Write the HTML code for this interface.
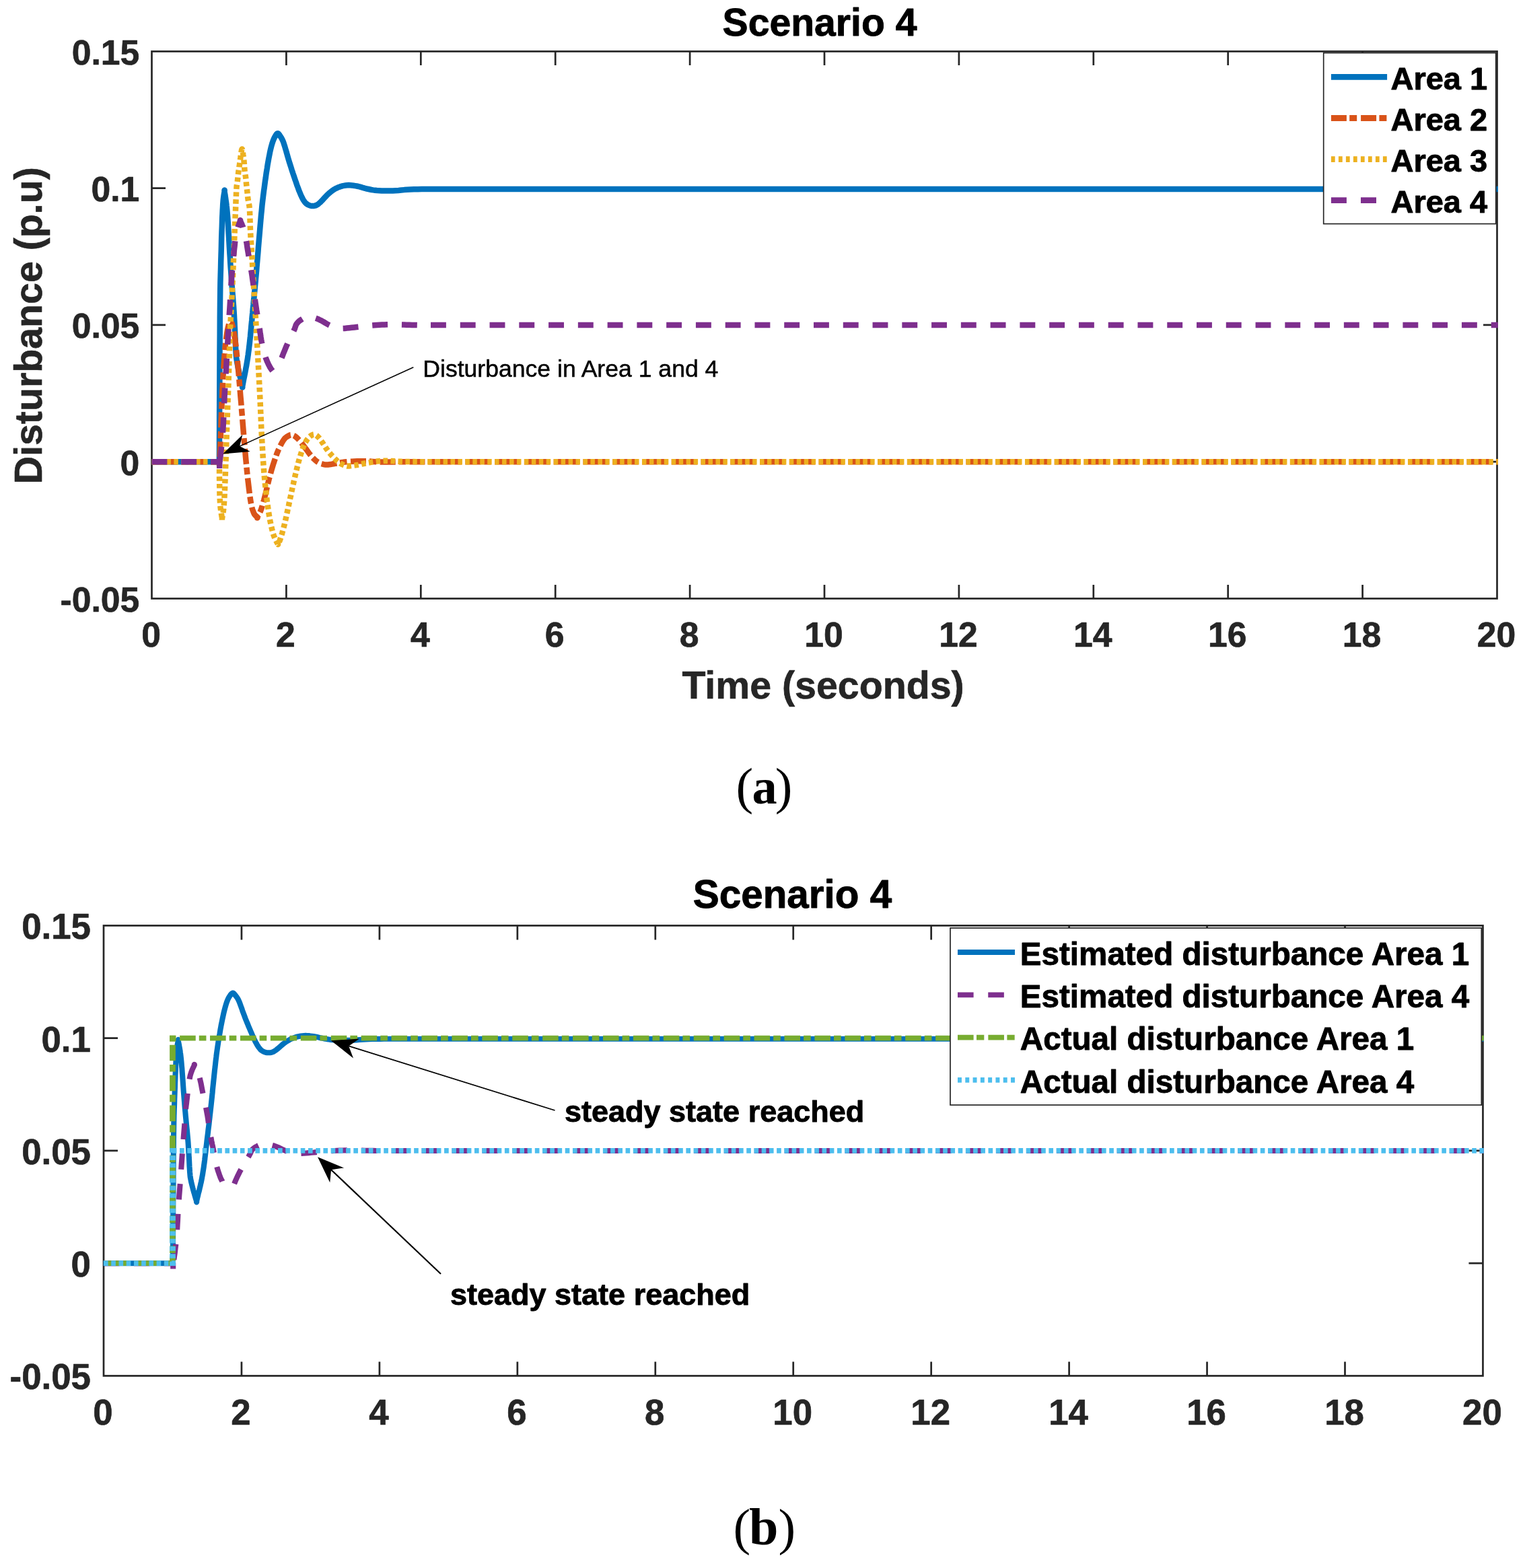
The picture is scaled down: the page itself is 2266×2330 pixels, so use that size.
<!DOCTYPE html>
<html lang="en">
<head>
<meta charset="utf-8">
<title>Scenario 4 - Disturbance estimation</title>
<style>
html,body{margin:0;padding:0;background:#fff;}
body{width:2266px;height:2330px;overflow:hidden;}
svg{display:block;}
text{white-space:pre;}
</style>
</head>
<body>
<svg width="2266" height="2330" viewBox="0 0 2266 2330">
<rect x="0" y="0" width="2266" height="2330" fill="#ffffff"/>
<g id="chart-a">
<g stroke="#262626" stroke-width="2.7" fill="none" stroke-linecap="butt">
<path d="M425.40 889.45V868.95 M425.40 76.40V96.90 M625.30 889.45V868.95 M625.30 76.40V96.90 M825.20 889.45V868.95 M825.20 76.40V96.90 M1025.10 889.45V868.95 M1025.10 76.40V96.90 M1225.00 889.45V868.95 M1225.00 76.40V96.90 M1424.90 889.45V868.95 M1424.90 76.40V96.90 M1624.80 889.45V868.95 M1624.80 76.40V96.90 M1824.70 889.45V868.95 M1824.70 76.40V96.90 M2024.60 889.45V868.95 M2024.60 76.40V96.90 M225.50 686.19H246.00 M2224.50 686.19H2204.00 M225.50 482.93H246.00 M2224.50 482.93H2204.00 M225.50 279.66H246.00 M2224.50 279.66H2204.00 "/>
<rect x="225.50" y="76.40" width="1999.00" height="813.05"/>
</g>
<clipPath id="clip1"><rect x="225.10" y="76.40" width="2000.70" height="813.05"/></clipPath>
<g clip-path="url(#clip1)">
<path d="M224.5 686.2 L325.9 686.2 L325.9 677.6 L326 666.2 L326 652.5 L326.1 636.7 L326.1 619.1 L326.2 600 L326.3 577.8 L326.4 551.8 L326.5 524 L326.7 496.4 L326.8 471.1 L327 450 L327.2 433.5 L327.4 420 L327.7 408.8 L328 398.9 L328.2 389.6 L328.5 380 L328.8 370.3 L329 361.1 L329.2 352.5 L329.5 344.4 L329.8 336.9 L330 330 L330.2 323.7 L330.5 318 L330.7 312.9 L331 308.2 L331.2 303.9 L331.5 300 L331.8 296.4 L332.2 293.1 L332.6 290.3 L333 287.8 L333.4 285.8 L333.6 284.3 L333.7 283.2 L333.7 282.7 L333.6 282.5 L333.5 282.8 L333.5 283.4 L333.6 284.3 L333.8 285.7 L334.1 287.5 L334.4 289.8 L334.8 292.2 L335.2 294.7 L335.5 297 L335.8 299.1 L336.1 301.2 L336.4 303.3 L336.6 305.5 L336.9 308.1 L337.2 311 L337.5 314.2 L337.8 317.7 L338.1 321.4 L338.4 325.4 L338.7 330 L339 335 L339.3 340.7 L339.7 347 L340.1 353.7 L340.5 360.7 L340.9 367.9 L341.3 375 L341.8 382.3 L342.2 389.8 L342.7 397.4 L343.3 405.1 L343.8 412.6 L344.3 420 L344.8 427.2 L345.4 434.4 L346 441.5 L346.5 448.4 L347.1 455.1 L347.5 461.5 L347.9 467.6 L348.2 473.4 L348.5 479 L348.7 484.4 L349 489.7 L349.2 495 L349.4 500.4 L349.7 505.9 L349.9 511.3 L350.1 516.4 L350.4 521 L350.6 525 L350.8 528.1 L351.1 530.6 L351.3 532.5 L351.6 534.2 L351.9 536 L352.2 538 L352.6 540.3 L353.1 542.7 L353.5 545.1 L354 547.5 L354.5 549.8 L355 552 L355.4 554.1 L355.9 556 L356.3 557.9 L356.7 559.8 L357.2 561.6 L357.6 563.5 L358.1 565.5 L358.6 567.6 L359.1 569.7 L359.5 571.6 L359.9 573.2 L360.2 574.4 L360.3 575.2 L360.3 575.6 L360.2 575.8 L360.1 575.6 L360.1 575.2 L360.2 574.4 L360.4 573.2 L360.7 571.5 L361.1 569.4 L361.5 567.3 L361.9 565.1 L362.3 563 L362.7 561.1 L363.1 559.1 L363.5 557.2 L363.9 555.2 L364.3 553.1 L364.7 551 L365.1 548.8 L365.5 546.5 L366 544.2 L366.4 541.8 L366.8 539.4 L367.2 537 L367.6 534.6 L368 532.2 L368.3 529.8 L368.7 527.3 L369 524.7 L369.4 522 L369.8 519.1 L370.1 516.1 L370.5 513 L370.9 509.8 L371.2 506.4 L371.6 503 L372 499.4 L372.3 495.6 L372.7 491.7 L373.1 487.8 L373.4 483.9 L373.8 480 L374.2 476.2 L374.5 472.3 L374.9 468.5 L375.3 464.7 L375.6 460.8 L376 457 L376.4 453.2 L376.7 449.4 L377.1 445.6 L377.5 441.7 L377.8 437.9 L378.2 434 L378.6 430.1 L378.9 426.2 L379.3 422.2 L379.7 418.3 L380 414.2 L380.4 410 L380.8 405.7 L381.2 401.3 L381.5 396.8 L381.9 392.2 L382.3 387.6 L382.7 383 L383.1 378.4 L383.5 373.7 L383.8 369.1 L384.2 364.4 L384.6 359.7 L385 355 L385.4 350.3 L385.8 345.6 L386.2 340.9 L386.6 336.2 L387 331.6 L387.4 327 L387.8 322.5 L388.2 318 L388.7 313.5 L389.1 309.1 L389.5 304.8 L390 300.5 L390.5 296.3 L391 292.1 L391.5 288 L392 283.9 L392.6 279.9 L393.1 276 L393.6 272.1 L394.1 268.3 L394.7 264.5 L395.2 260.8 L395.7 257.1 L396.3 253.5 L396.9 249.9 L397.4 246.4 L398 242.8 L398.6 239.4 L399.2 236.1 L399.8 233 L400.4 230 L400.9 227.2 L401.5 224.4 L402.1 221.8 L402.7 219.4 L403.3 217 L403.9 214.8 L404.6 212.7 L405.2 210.7 L405.9 208.9 L406.6 207.1 L407.3 205.5 L408.1 203.9 L409 202.3 L409.8 200.9 L410.7 199.6 L411.6 198.7 L412.4 198.2 L413.1 198.2 L413.8 198.7 L414.5 199.4 L415.2 200.4 L415.8 201.5 L416.5 202.5 L417.2 203.5 L417.9 204.6 L418.6 205.7 L419.2 207 L419.9 208.4 L420.6 210 L421.3 211.8 L421.9 213.7 L422.6 215.8 L423.3 218 L423.9 220.3 L424.6 222.5 L425.3 224.7 L425.9 227.1 L426.6 229.4 L427.2 231.8 L427.9 234.1 L428.6 236.5 L429.3 238.8 L430 241.2 L430.8 243.5 L431.5 245.9 L432.3 248.2 L433 250.5 L433.7 252.8 L434.5 255.1 L435.2 257.3 L436 259.6 L436.7 261.8 L437.5 264 L438.2 266.2 L439 268.4 L439.8 270.6 L440.5 272.8 L441.2 274.9 L442 277 L442.8 279 L443.5 281 L444.2 283 L445 284.9 L445.8 286.7 L446.5 288.5 L447.2 290.2 L448 291.8 L448.7 293.4 L449.5 294.8 L450.2 296.2 L451 297.5 L451.8 298.7 L452.5 299.8 L453.3 300.7 L454.1 301.6 L455 302.5 L456 303.2 L457.1 303.9 L458.4 304.6 L459.7 305.1 L461 305.6 L462.5 305.9 L463.9 306 L465.3 306 L466.7 305.9 L468.1 305.6 L469.6 305.1 L471.4 304.2 L473.3 302.9 L475.6 300.9 L478.2 298.3 L480.9 295.3 L483.8 292.3 L486.5 289.4 L489 287.1 L491.3 285.2 L493.4 283.6 L495.4 282.2 L497.5 280.9 L499.5 279.8 L501.7 278.8 L504 277.9 L506.3 277.1 L508.7 276.4 L511.1 275.9 L513.5 275.5 L515.9 275.2 L518.2 275.1 L520.6 275.2 L522.9 275.4 L525.2 275.7 L527.6 276.1 L530 276.5 L532.4 277 L534.9 277.7 L537.4 278.4 L540 279.2 L542.5 279.9 L545 280.5 L547.4 281 L549.7 281.5 L552 282 L554.4 282.4 L557 282.7 L560 283 L563.4 283.2 L567.1 283.4 L571.1 283.5 L575.2 283.6 L579.4 283.6 L583.6 283.5 L587.8 283.3 L592.1 283 L596.4 282.6 L600.8 282.1 L605.4 281.8 L610 281.5 L615.1 281.3 L620.8 281.2 L626.7 281.1 L632.1 281.1 L636.7 281 L640 281 L645 281 L2226.5 281" fill="none" stroke="#0072BD" stroke-width="8.5" stroke-linejoin="round"/>
<path d="M224.5 686.2 L326.2 686.2" fill="none" stroke="#D95319" stroke-width="8.5" stroke-linejoin="round" stroke-dasharray="23 4.9 10.4 5.47" stroke-dashoffset="-1.00"/>
<path d="M326.2 686.2 L326.2 686.2 L326.4 682.5 L326.6 677.7 L326.9 671.9 L327.2 665.2 L327.5 657.8 L327.8 650 L328.1 641.3 L328.5 631.6 L328.8 621.2 L329.2 610.5 L329.6 600 L330 590 L330.4 580.3 L330.9 570.6 L331.4 560.9 L331.9 551.7 L332.5 543 L333 535 L333.6 527.8 L334.1 521.2 L334.7 515.2 L335.3 509.7 L335.9 504.6 L336.5 500 L337.1 495.9 L337.7 492.2 L338.3 489.1 L338.9 486.3 L339.5 484 L340 482 L340.5 480.4 L340.9 479.3 L341.3 478.5 L341.7 478.1 L342.1 477.9 L342.5 478 L343 478.2 L343.4 478.5 L343.9 479.1 L344.4 480.1 L344.9 481.7 L345.5 484 L346.2 486.9 L346.9 490.3 L347.6 494.2 L348.4 498.8 L349.2 504 L350 510 L350.8 516.8 L351.6 524.5 L352.5 532.9 L353.3 541.7 L354.2 550.8 L355 560 L355.8 569.3 L356.6 578.9 L357.4 588.8 L358.3 598.9 L359.1 609.3 L360 620 L360.9 631.3 L361.9 643.3 L362.9 655.5 L364 667.6 L365 679.3 L366 690 L367 700.1 L368 709.9 L369.1 719.1 L370.1 727.7 L371.1 735.4 L372 742 L372.9 747.3 L373.7 751.5 L374.5 754.9 L375.3 757.5 L376.2 759.8 L377 762 L377.9 763.9 L379 765.3 L380 766.4 L381 767.2 L381.8 767.8 L382.4 768.3 L382.6 768.8 L382.6 769.2 L382.4 769.4 L382.2 769.4 L382.1 769 L382.4 768.3 L383 767.2 L383.8 765.7 L384.8 764 L385.9 761.9 L387 759.6 L388 757 L389 754.1 L390 750.7 L391 747.1 L392.1 743.4 L393.1 739.6 L394 736 L394.9 732.5 L395.7 729.1 L396.4 725.8 L397.2 722.3 L398.1 718.7 L399 715 L400 711 L401.2 706.9 L402.3 702.6 L403.5 698.3 L404.8 694 L406 690 L407.3 686.1 L408.6 682.2 L409.9 678.4 L411.2 674.7 L412.6 671.2 L413.9 668 L415.3 665 L416.7 662.1 L418.1 659.4 L419.4 657 L420.8 654.8 L422 653 L423.1 651.6 L424.2 650.5 L425.2 649.7 L426.1 649.1 L427.1 648.5 L428 648 L428.9 647.5 L429.8 647 L430.7 646.6 L431.6 646.3 L432.5 646.2 L433.5 646.2 L434.5 646.4 L435.6 646.8 L436.7 647.3 L437.8 647.9 L438.9 648.6 L440 649.5 L441.1 650.5 L442.3 651.6 L443.5 652.9 L444.7 654.2 L445.8 655.6 L447 657 L448.1 658.4 L449.2 659.8 L450.3 661.3 L451.4 662.8 L452.6 664.4 L453.8 666 L455.1 667.7 L456.4 669.6 L457.8 671.5 L459.2 673.4 L460.6 675.3 L462 677 L463.4 678.6 L464.8 680.2 L466.3 681.7 L467.7 683.1 L469.2 684.4 L470.6 685.5 L472 686.5 L473.4 687.3 L474.8 688 L476.2 688.6 L477.6 689.1 L479 689.5 L480.4 689.9 L481.6 690.2 L482.9 690.4 L484.3 690.5 L485.8 690.5 L487.4 690.5 L489.2 690.3 L491.2 690.1 L493.3 689.7 L495.5 689.3 L497.7 688.9 L500 688.5 L502.2 688.1 L504.5 687.7 L506.7 687.3 L509.2 686.9 L511.9 686.5 L515 686.2 L518.5 685.9 L522.4 685.7 L526.6 685.5 L530.9 685.3 L535.4 685.2 L540 685.2 L544.7 685.3 L549.6 685.6 L554.7 685.9 L559.8 686.2 L564.9 686.4 L570 686.6 L574.9 686.6 L579.6 686.6 L584.4 686.5 L589.3 686.4 L594.4 686.3 L600 686.2 L606.6 686.2 L614.1 686.2 L621.9 686.2 L629.3 686.2 L635.5 686.2 L640 686.2 L647.6 686.2" fill="none" stroke="#D95319" stroke-width="8.5" stroke-linejoin="round" stroke-dasharray="23 4.9 10.4 5.47" stroke-dashoffset="-7.00"/>
<path d="M647.6 686.2 L647.6 686.2 L2226.5 686.2" fill="none" stroke="#D95319" stroke-width="8.5" stroke-linejoin="round" stroke-dasharray="23 4.9 10.4 5.47"/>
<path d="M224.5 686.2 L325.9 686.2" fill="none" stroke="#EDB120" stroke-width="8.5" stroke-linejoin="round" stroke-dasharray="6.5 4.442" stroke-dashoffset="-1.00"/>
<path d="M325.9 686.2 L325.9 686.2 L325.9 689.9 L326 695.1 L326 701.2 L326 707.8 L326.1 714.2 L326.2 720 L326.3 725.3 L326.4 730.6 L326.5 735.8 L326.7 740.8 L326.9 745.6 L327.2 750 L327.6 754.2 L328.1 758.3 L328.7 762.1 L329.2 765.5 L329.7 768.4 L330 770.5 L330.1 771.9 L330.1 772.8 L330 773.1 L329.9 772.8 L329.9 771.9 L330 770.5 L330.3 768.6 L330.7 766.3 L331.3 763.4 L331.8 759.8 L332.3 755.4 L332.8 750 L333.2 743.5 L333.6 735.9 L334 727.5 L334.3 718.5 L334.7 709.3 L335 700 L335.3 690.7 L335.7 681.1 L336 671.2 L336.3 661.1 L336.6 650.7 L337 640 L337.4 629 L337.8 617.8 L338.2 606.2 L338.6 594.4 L339.1 582.4 L339.5 570 L339.9 556.8 L340.3 542.8 L340.8 528.4 L341.2 514.4 L341.6 501.4 L342 490 L342.4 480.2 L342.9 471.7 L343.3 464.1 L343.7 457.2 L344.1 450.9 L344.4 445 L344.7 439.8 L344.9 435.7 L345 432.2 L345.2 428.7 L345.4 424.8 L345.6 420 L345.9 414.1 L346.1 407.6 L346.4 400.6 L346.7 393.4 L347 386.5 L347.3 380 L347.5 374 L347.8 368.3 L348 362.8 L348.2 357.3 L348.4 351.7 L348.6 346 L348.8 340 L349.1 333.9 L349.4 327.8 L349.6 321.6 L349.9 315.7 L350.1 310 L350.3 304.4 L350.5 298.9 L350.8 293.5 L351 288.4 L351.2 283.8 L351.4 280 L351.6 277 L351.9 274.9 L352.2 273.2 L352.4 271.9 L352.7 270.5 L352.9 268.8 L353.1 266.9 L353.3 265 L353.5 263.1 L353.7 261.2 L353.9 259.3 L354.1 257.4 L354.3 255.5 L354.6 253.7 L354.9 251.8 L355.2 250 L355.4 248.2 L355.7 246.3 L356 244.4 L356.2 242.6 L356.5 240.7 L356.7 238.9 L357 236.9 L357.3 234.9 L357.6 232.5 L358 229.7 L358.4 226.8 L358.8 224.3 L359.2 222.4 L359.6 221.5 L360 221.8 L360.3 223.2 L360.7 225.1 L361 227.4 L361.3 229.8 L361.6 231.8 L361.9 233.6 L362.1 235.4 L362.3 237.3 L362.5 239.1 L362.6 241 L362.8 242.8 L362.9 244.6 L363.1 246.5 L363.2 248.3 L363.3 250.2 L363.4 252 L363.6 253.8 L363.8 255.6 L364.1 257.4 L364.4 259.1 L364.7 260.9 L365 262.7 L365.2 264.5 L365.4 266.3 L365.6 268.2 L365.8 270 L365.9 271.9 L366.1 273.7 L366.3 275.5 L366.5 277.3 L366.7 279 L366.9 280.8 L367.1 282.5 L367.3 284.3 L367.5 286.1 L367.7 287.9 L367.9 289.7 L368 291.5 L368.2 293.4 L368.4 295.2 L368.7 297.2 L369 299 L369.4 300.5 L369.7 302 L370.1 304 L370.5 306.5 L370.8 310 L371.1 314.7 L371.3 320.3 L371.5 326.6 L371.7 333.2 L371.9 339.8 L372.2 346 L372.5 351.9 L372.9 357.9 L373.3 363.8 L373.6 369.7 L374 375.6 L374.4 381.5 L374.8 387.5 L375.1 393.6 L375.5 399.7 L375.8 405.6 L376.2 411.5 L376.5 417 L376.8 421.7 L377 425.7 L377.3 429.4 L377.5 433.6 L377.9 438.9 L378.3 446 L378.8 455.1 L379.5 465.8 L380.2 477.6 L380.9 490.1 L381.6 502.7 L382.3 515 L383 527.3 L383.7 540.1 L384.4 553.1 L385.1 565.9 L385.7 578.3 L386.3 590 L386.8 600.9 L387.2 611.1 L387.7 620.9 L388.1 630.6 L388.5 640.2 L389 650 L389.6 660.1 L390.2 670.4 L390.8 680.6 L391.5 690.7 L392.2 700.6 L393 710 L393.9 719.1 L394.9 728.1 L395.9 736.9 L396.9 745.2 L398 752.9 L399 760 L400 766.4 L401 772.1 L402.1 777.3 L403.1 782 L404.1 786.2 L405 790 L405.9 793.2 L406.8 795.9 L407.7 798 L408.5 799.9 L409.3 801.5 L410 803 L410.7 804.4 L411.3 805.5 L411.8 806.5 L412.3 807.2 L412.7 807.8 L413 808.3 L413.1 808.7 L413.1 809 L413 809.1 L412.9 809 L412.8 808.8 L413 808.3 L413.4 807.6 L413.8 806.8 L414.4 805.8 L415.1 804.6 L415.8 803 L416.5 801 L417.3 798.5 L418.2 795.6 L419.2 792.4 L420.1 789 L421.1 785.5 L422 782 L422.9 778.6 L423.7 775.1 L424.5 771.5 L425.3 767.8 L426.1 764 L427 760 L427.9 755.8 L428.9 751.4 L429.8 746.9 L430.8 742.3 L431.8 737.6 L432.8 733 L433.8 728.4 L434.8 723.6 L435.9 718.9 L436.9 714.1 L438 709.5 L439 705 L440.1 700.6 L441.1 696.2 L442.2 691.9 L443.2 687.8 L444.3 683.8 L445.4 680 L446.5 676.4 L447.6 672.9 L448.7 669.6 L449.8 666.5 L450.9 663.6 L452 661 L453.1 658.6 L454.3 656.5 L455.4 654.6 L456.6 652.9 L457.8 651.4 L459 650 L460.2 648.8 L461.5 647.7 L462.7 646.9 L464 646.2 L465.2 645.8 L466.4 645.6 L467.5 645.7 L468.6 646.1 L469.7 646.7 L470.8 647.5 L471.9 648.4 L473 649.5 L474.1 650.7 L475.3 652.2 L476.4 653.8 L477.6 655.5 L478.8 657.3 L480 659 L481.2 660.8 L482.4 662.6 L483.6 664.5 L484.8 666.4 L486.1 668.2 L487.4 670 L488.8 671.8 L490.2 673.5 L491.6 675.2 L493.1 676.9 L494.6 678.5 L496 680 L497.4 681.4 L498.8 682.8 L500.1 684.1 L501.5 685.4 L502.9 686.5 L504.2 687.5 L505.5 688.4 L506.9 689.2 L508.2 689.9 L509.5 690.5 L510.8 691 L512 691.5 L513 691.9 L513.9 692.1 L514.7 692.3 L515.6 692.5 L516.7 692.5 L518 692.5 L519.6 692.4 L521.4 692.2 L523.4 692 L525.6 691.7 L527.8 691.4 L530 691 L532.3 690.6 L534.8 690.1 L537.3 689.6 L539.9 689 L542.5 688.5 L545 688 L547.5 687.5 L550 687.1 L552.5 686.6 L555 686.2 L557.5 685.8 L560 685.5 L562.5 685.3 L564.8 685.1 L567.2 684.9 L569.7 684.8 L572.5 684.8 L575.6 684.8 L579 684.9 L582.5 685.1 L586.3 685.3 L590.4 685.6 L594.9 685.8 L600 686 L606.2 686.1 L613.7 686.1 L621.5 686.2 L629.1 686.2 L635.5 686.2 L640 686.2 L647.6 686.2" fill="none" stroke="#EDB120" stroke-width="8.5" stroke-linejoin="round" stroke-dasharray="6.5 4.442"/>
<path d="M647.6 686.2 L647.6 686.2 L2226.5 686.2" fill="none" stroke="#EDB120" stroke-width="8.5" stroke-linejoin="round" stroke-dasharray="6.5 4.442"/>
<path d="M224.5 686.2 L326.2 686.2 L326.2 696.3" fill="none" stroke="#7E2F8E" stroke-width="8.5" stroke-linejoin="round" stroke-dasharray="22.9 20.87" stroke-dashoffset="-1.00"/>
<path d="M326.2 686.5 L326.3 685.5 L326.5 684.6 L326.7 683.5 L326.9 682.1 L327.2 680.3 L327.5 678 L327.8 675 L328.2 671.5 L328.7 667.5 L329.1 663.4 L329.5 659.1 L329.9 655 L330.2 651.2 L330.6 647.6 L330.9 643.9 L331.2 639.9 L331.5 635.3 L331.8 630 L332.1 623.7 L332.4 616.5 L332.8 608.8 L333.1 600.7 L333.4 592.7 L333.8 585 L334.2 577.7 L334.6 570.6 L335.1 563.4 L335.5 556.1 L336 548.4 L336.5 540 L337 530.6 L337.6 520.4 L338.3 509.7 L338.9 499.1 L339.5 489 L340 480 L340.5 472 L340.9 464.7 L341.4 457.9 L341.8 451.6 L342.1 445.7 L342.5 440 L342.8 434.7 L343.1 429.8 L343.3 425.3 L343.6 421.1 L343.8 417 L344.1 413 L344.4 409.2 L344.7 405.6 L345 402.2 L345.3 398.9 L345.7 395.5 L346 392 L346.3 388.4 L346.7 384.7 L347 380.9 L347.4 377.2 L347.7 373.6 L348.1 370 L348.5 366.5 L348.9 362.9 L349.2 359.4 L349.6 356 L350.1 352.8 L350.5 350 L351 347.5 L351.4 345.3 L351.9 343.4 L352.4 341.5 L353 339.8 L353.5 338 L354.1 336.1 L354.8 334.2 L355.4 332.4 L356.1 330.7 L356.6 329.3 L357 328.3 L357.2 327.6 L357.1 327.3 L357 327.2 L356.9 327.4 L356.8 327.7 L357 328.3 L357.4 329.1 L357.9 330.2 L358.6 331.6 L359.3 333.1 L359.9 334.6 L360.5 336 L361 337.4 L361.4 338.8 L361.8 340.3 L362.2 341.8 L362.6 343.4 L363 345 L363.4 346.6 L363.8 348.1 L364.2 349.6 L364.6 351.4 L365.1 353.5 L365.6 356.1 L366.2 359.4 L366.8 363.2 L367.4 367.4 L368.1 371.7 L368.8 375.8 L369.4 379.7 L370 383.2 L370.6 386.4 L371.2 389.6 L371.8 392.7 L372.3 396 L372.9 399.4 L373.5 403 L374.1 406.8 L374.7 410.7 L375.2 414.6 L375.8 418.5 L376.3 422.3 L376.7 426 L377.1 429.6 L377.5 433.2 L377.9 436.8 L378.3 440.4 L378.7 443.9 L379.2 447.4 L379.7 450.8 L380.2 454.1 L380.7 457.5 L381.2 460.9 L381.8 464.4 L382.4 468 L383 471.6 L383.6 475.3 L384.2 479.1 L384.8 482.8 L385.4 486.5 L386 490.2 L386.5 493.9 L387.1 497.7 L387.6 501.4 L388.2 505 L388.9 508.6 L389.7 512.2 L390.5 515.8 L391.4 519.4 L392.2 522.8 L393.1 526.1 L394 529 L394.8 531.6 L395.7 533.9 L396.5 536 L397.3 537.9 L398.2 539.7 L399 541.5 L399.9 543.2 L400.7 544.8 L401.6 546.4 L402.5 547.8 L403.4 549.1 L404.3 550.3 L405.2 551.5 L406 552.7" fill="none" stroke="#7E2F8E" stroke-width="8.5" stroke-linejoin="round" stroke-dasharray="22.9 20.87"/>
<path d="M418.5 531.8 L418.5 531.8 L419.7 528.8 L421 525.4 L422.5 521.8 L424 518.1 L425.5 514.4 L427.1 510.9 L428.7 507.3 L430.5 503.6 L432.3 499.9 L434.1 496.4 L435.7 493.2 L437 490.4 L438 488.2 L438.6 486.3 L439.1 484.8 L439.5 483.5 L440.1 482.3 L440.9 481 L442 479.7 L443.2 478.4 L444.5 477.2 L445.9 476.1 L447.4 475.1 L448.8 474.2 L450.2 473.3 L451.7 472.6 L453.2 471.9 L454.8 471.3 L456.4 470.8 L458 470.6 L459.7 470.6 L461.4 470.8 L463.2 471.1 L465 471.5 L466.8 472.1 L468.5 472.6 L470.2 473.2 L471.9 473.8 L473.5 474.5 L475.1 475.3 L476.8 476.1 L478.5 477 L480.2 477.9 L482 479 L483.8 480.1 L485.5 481.1 L487.3 482.1 L489 483 L490.7 483.8 L492.4 484.5 L494 485.1 L495.6 485.7 L497.3 486.2 L499 486.6 L500.6 487 L502.1 487.4 L503.6 487.6 L505.2 487.9 L507.2 488 L509.5 488 L512.3 487.9 L515.5 487.6 L519 487.2 L522.7 486.8 L526.4 486.4 L530 486 L533.6 485.6 L537.3 485.2 L541.1 484.8 L544.8 484.3 L548.6 483.9 L552.4 483.6 L556.2 483.3 L560 483 L563.8 482.8 L567.6 482.6 L571.3 482.4 L575 482.3 L578.6 482.2 L582.1 482.2 L585.5 482.3 L589 482.4 L592.5 482.4 L596.2 482.5 L600.1 482.6 L604.1 482.7 L608.2 482.8 L612.3 482.9 L616.2 482.9 L620 483 L623.8 483 L627.7 483 L631.5 483 L635 483 L637.9 483 L640 483" fill="none" stroke="#7E2F8E" stroke-width="8.5" stroke-linejoin="round" stroke-dasharray="22.9 20.87"/>
<path d="M640 483 L640 483 L2226.5 483" fill="none" stroke="#7E2F8E" stroke-width="8.5" stroke-linejoin="round" stroke-dasharray="22.9 20.87"/>
</g>
<text x="224.50" y="961.00" font-family='"Liberation Sans", Arial, Helvetica, sans-serif' font-size="51.7" font-weight="bold" text-anchor="middle" fill="#262626" stroke="#262626" stroke-width="0.65" stroke-linejoin="round">0</text>
<text x="424.40" y="961.00" font-family='"Liberation Sans", Arial, Helvetica, sans-serif' font-size="51.7" font-weight="bold" text-anchor="middle" fill="#262626" stroke="#262626" stroke-width="0.65" stroke-linejoin="round">2</text>
<text x="624.30" y="961.00" font-family='"Liberation Sans", Arial, Helvetica, sans-serif' font-size="51.7" font-weight="bold" text-anchor="middle" fill="#262626" stroke="#262626" stroke-width="0.65" stroke-linejoin="round">4</text>
<text x="824.20" y="961.00" font-family='"Liberation Sans", Arial, Helvetica, sans-serif' font-size="51.7" font-weight="bold" text-anchor="middle" fill="#262626" stroke="#262626" stroke-width="0.65" stroke-linejoin="round">6</text>
<text x="1024.10" y="961.00" font-family='"Liberation Sans", Arial, Helvetica, sans-serif' font-size="51.7" font-weight="bold" text-anchor="middle" fill="#262626" stroke="#262626" stroke-width="0.65" stroke-linejoin="round">8</text>
<text x="1224.00" y="961.00" font-family='"Liberation Sans", Arial, Helvetica, sans-serif' font-size="51.7" font-weight="bold" text-anchor="middle" fill="#262626" stroke="#262626" stroke-width="0.65" stroke-linejoin="round">10</text>
<text x="1423.90" y="961.00" font-family='"Liberation Sans", Arial, Helvetica, sans-serif' font-size="51.7" font-weight="bold" text-anchor="middle" fill="#262626" stroke="#262626" stroke-width="0.65" stroke-linejoin="round">12</text>
<text x="1623.80" y="961.00" font-family='"Liberation Sans", Arial, Helvetica, sans-serif' font-size="51.7" font-weight="bold" text-anchor="middle" fill="#262626" stroke="#262626" stroke-width="0.65" stroke-linejoin="round">14</text>
<text x="1823.70" y="961.00" font-family='"Liberation Sans", Arial, Helvetica, sans-serif' font-size="51.7" font-weight="bold" text-anchor="middle" fill="#262626" stroke="#262626" stroke-width="0.65" stroke-linejoin="round">16</text>
<text x="2023.60" y="961.00" font-family='"Liberation Sans", Arial, Helvetica, sans-serif' font-size="51.7" font-weight="bold" text-anchor="middle" fill="#262626" stroke="#262626" stroke-width="0.65" stroke-linejoin="round">18</text>
<text x="2223.50" y="961.00" font-family='"Liberation Sans", Arial, Helvetica, sans-serif' font-size="51.7" font-weight="bold" text-anchor="middle" fill="#262626" stroke="#262626" stroke-width="0.65" stroke-linejoin="round">20</text>
<text x="207.30" y="95.80" font-family='"Liberation Sans", Arial, Helvetica, sans-serif' font-size="51.7" font-weight="bold" text-anchor="end" fill="#262626" stroke="#262626" stroke-width="0.65" stroke-linejoin="round">0.15</text>
<text x="207.30" y="299.06" font-family='"Liberation Sans", Arial, Helvetica, sans-serif' font-size="51.7" font-weight="bold" text-anchor="end" fill="#262626" stroke="#262626" stroke-width="0.65" stroke-linejoin="round">0.1</text>
<text x="207.30" y="502.32" font-family='"Liberation Sans", Arial, Helvetica, sans-serif' font-size="51.7" font-weight="bold" text-anchor="end" fill="#262626" stroke="#262626" stroke-width="0.65" stroke-linejoin="round">0.05</text>
<text x="207.30" y="705.59" font-family='"Liberation Sans", Arial, Helvetica, sans-serif' font-size="51.7" font-weight="bold" text-anchor="end" fill="#262626" stroke="#262626" stroke-width="0.65" stroke-linejoin="round">0</text>
<text x="207.30" y="908.85" font-family='"Liberation Sans", Arial, Helvetica, sans-serif' font-size="51.7" font-weight="bold" text-anchor="end" fill="#262626" stroke="#262626" stroke-width="0.65" stroke-linejoin="round">-0.05</text>
<text x="1218.00" y="52.60" font-family='"Liberation Sans", Arial, Helvetica, sans-serif' font-size="57.1" font-weight="bold" text-anchor="middle" fill="#000" stroke="#000" stroke-width="0.9" stroke-linejoin="round">Scenario 4</text>
<text x="1223.00" y="1037.60" font-family='"Liberation Sans", Arial, Helvetica, sans-serif' font-size="57.3" font-weight="bold" text-anchor="middle" fill="#262626" stroke="#262626" stroke-width="0.65" stroke-linejoin="round">Time (seconds)</text>
<text transform="translate(61.9 483.8) rotate(-90)" font-family='"Liberation Sans", Arial, Helvetica, sans-serif' font-size="57.3" font-weight="bold" text-anchor="middle" fill="#262626" stroke="#262626" stroke-width="0.65" stroke-linejoin="round">Disturbance (p.u)</text>
<rect x="1966.7" y="78.6" width="256" height="254" fill="#fff" stroke="#262626" stroke-width="1.7"/>
<line x1="1977.9" y1="114.40" x2="2061.1" y2="114.40" stroke="#0072BD" stroke-width="8.8"/>
<text x="2066.50" y="133.00" font-family='"Liberation Sans", Arial, Helvetica, sans-serif' font-size="47" font-weight="bold" text-anchor="start" fill="#000" stroke="#000" stroke-width="0.9" stroke-linejoin="round">Area 1</text>
<line x1="1977.9" y1="175.50" x2="2061.1" y2="175.50" stroke="#D95319" stroke-width="8.8" stroke-dasharray="23 4.3 11 5.9"/>
<text x="2066.50" y="194.10" font-family='"Liberation Sans", Arial, Helvetica, sans-serif' font-size="47" font-weight="bold" text-anchor="start" fill="#000" stroke="#000" stroke-width="0.9" stroke-linejoin="round">Area 2</text>
<line x1="1977.9" y1="236.60" x2="2061.1" y2="236.60" stroke="#EDB120" stroke-width="8.8" stroke-dasharray="5.8 5.2"/>
<text x="2066.50" y="255.20" font-family='"Liberation Sans", Arial, Helvetica, sans-serif' font-size="47" font-weight="bold" text-anchor="start" fill="#000" stroke="#000" stroke-width="0.9" stroke-linejoin="round">Area 3</text>
<line x1="1977.9" y1="297.70" x2="2061.1" y2="297.70" stroke="#7E2F8E" stroke-width="8.8" stroke-dasharray="23 21.1"/>
<text x="2066.50" y="316.30" font-family='"Liberation Sans", Arial, Helvetica, sans-serif' font-size="47" font-weight="bold" text-anchor="start" fill="#000" stroke="#000" stroke-width="0.9" stroke-linejoin="round">Area 4</text>
<line x1="614.30" y1="545.80" x2="356.13" y2="663.07" stroke="#000" stroke-width="1.5"/>
<polygon points="331.20,674.40 360.36,646.00 356.13,663.07 371.78,671.12" fill="#000"/>
<text x="628.30" y="559.60" font-family='"Liberation Sans", Arial, Helvetica, sans-serif' font-size="35.6" font-weight="normal" text-anchor="start" fill="#000" stroke="#000" stroke-width="0.5">Disturbance in Area 1 and 4</text>
</g>
<text y="1193.5" font-family='"Liberation Serif", "Times New Roman", serif' fill="#000"><tspan x="1093.4" y="1193.5" font-size="77.07" font-weight="normal">(</tspan><tspan x="1117.4" y="1193.7" font-size="74.3" font-weight="bold">a</tspan><tspan x="1151.8" y="1193.5" font-size="77.07" font-weight="normal">)</tspan></text>
<g id="chart-b">
<g stroke="#262626" stroke-width="2.7" fill="none" stroke-linecap="butt">
<path d="M358.94 2044.45V2023.45 M358.94 1375.40V1396.40 M563.89 2044.45V2023.45 M563.89 1375.40V1396.40 M768.83 2044.45V2023.45 M768.83 1375.40V1396.40 M973.78 2044.45V2023.45 M973.78 1375.40V1396.40 M1178.72 2044.45V2023.45 M1178.72 1375.40V1396.40 M1383.67 2044.45V2023.45 M1383.67 1375.40V1396.40 M1588.61 2044.45V2023.45 M1588.61 1375.40V1396.40 M1793.56 2044.45V2023.45 M1793.56 1375.40V1396.40 M1998.50 2044.45V2023.45 M1998.50 1375.40V1396.40 M154.00 1877.19H175.00 M2203.45 1877.19H2182.45 M154.00 1709.93H175.00 M2203.45 1709.93H2182.45 M154.00 1542.66H175.00 M2203.45 1542.66H2182.45 "/>
<rect x="154.00" y="1375.40" width="2049.45" height="669.05"/>
</g>
<clipPath id="clip2"><rect x="153.60" y="1375.40" width="2051.15" height="669.05"/></clipPath>
<g clip-path="url(#clip2)">
<path d="M153 1877.2 L256.9 1877.2 L257 1870.1 L257 1860.8 L257 1849.4 L257.1 1836.4 L257.2 1821.9 L257.2 1806.3 L257.3 1788 L257.5 1766.6 L257.6 1743.7 L257.7 1721 L257.9 1700.2 L258.1 1682.8 L258.3 1669.2 L258.5 1658.1 L258.8 1648.9 L259.1 1640.8 L259.3 1633.1 L259.6 1625.2 L259.9 1617.2 L260.1 1609.7 L260.4 1602.6 L260.6 1596 L260.9 1589.8 L261.1 1584.1 L261.4 1578.9 L261.6 1574.2 L261.9 1570 L262.1 1566.1 L262.4 1562.6 L262.7 1559.4 L263 1556.4 L263.4 1553.7 L263.8 1551.4 L264.2 1549.4 L264.6 1547.7 L264.8 1546.5 L264.9 1545.6 L264.9 1545.1 L264.8 1545 L264.8 1545.2 L264.7 1545.7 L264.8 1546.5 L265 1547.6 L265.3 1549.1 L265.7 1551 L266.1 1553 L266.4 1555 L266.8 1556.9 L267.1 1558.7 L267.4 1560.4 L267.7 1562.1 L267.9 1564 L268.2 1566 L268.5 1568.4 L268.8 1571.1 L269.1 1573.9 L269.4 1577 L269.7 1580.3 L270 1584.1 L270.4 1588.2 L270.7 1592.9 L271.1 1598 L271.5 1603.6 L271.9 1609.4 L272.3 1615.2 L272.7 1621.1 L273.2 1627.1 L273.7 1633.3 L274.2 1639.6 L274.7 1645.9 L275.3 1652.1 L275.8 1658.1 L276.4 1664.1 L276.9 1670 L277.5 1675.8 L278.1 1681.5 L278.6 1687 L279.1 1692.3 L279.5 1697.3 L279.8 1702.1 L280.1 1706.7 L280.3 1711.1 L280.6 1715.5 L280.8 1719.9 L281.1 1724.3 L281.3 1728.8 L281.5 1733.3 L281.8 1737.5 L282 1741.3 L282.3 1744.5 L282.5 1747.1 L282.7 1749.1 L283 1750.7 L283.3 1752.1 L283.6 1753.6 L283.9 1755.2 L284.3 1757.1 L284.8 1759.1 L285.3 1761.1 L285.8 1763 L286.3 1765 L286.8 1766.8 L287.2 1768.5 L287.7 1770.1 L288.1 1771.7 L288.6 1773.2 L289 1774.7 L289.4 1776.2 L289.9 1777.9 L290.4 1779.6 L290.9 1781.3 L291.4 1782.9 L291.8 1784.2 L292.1 1785.2 L292.2 1785.8 L292.2 1786.2 L292.1 1786.3 L292 1786.2 L292 1785.8 L292.1 1785.2 L292.3 1784.2 L292.6 1782.8 L293 1781.1 L293.4 1779.3 L293.9 1777.5 L294.3 1775.8 L294.6 1774.2 L295 1772.6 L295.5 1771 L295.9 1769.4 L296.3 1767.7 L296.7 1765.9 L297.1 1764.1 L297.6 1762.3 L298 1760.3 L298.4 1758.4 L298.9 1756.4 L299.3 1754.4 L299.7 1752.5 L300.1 1750.5 L300.4 1748.5 L300.8 1746.5 L301.2 1744.3 L301.5 1742.1 L301.9 1739.7 L302.3 1737.2 L302.7 1734.7 L303 1732 L303.4 1729.3 L303.8 1726.4 L304.2 1723.5 L304.5 1720.4 L304.9 1717.2 L305.3 1713.9 L305.7 1710.7 L306 1707.5 L306.4 1704.4 L306.8 1701.2 L307.2 1698.1 L307.5 1694.9 L307.9 1691.7 L308.3 1688.6 L308.7 1685.4 L309.1 1682.3 L309.4 1679.2 L309.8 1676 L310.2 1672.9 L310.6 1669.7 L310.9 1666.4 L311.3 1663.2 L311.7 1660 L312 1656.7 L312.4 1653.4 L312.8 1649.9 L313.2 1646.4 L313.6 1642.7 L314 1639 L314.4 1635.3 L314.8 1631.5 L315.2 1627.7 L315.6 1623.9 L315.9 1620.1 L316.3 1616.2 L316.7 1612.4 L317.1 1608.5 L317.5 1604.7 L317.9 1600.8 L318.3 1596.9 L318.7 1593.1 L319.1 1589.2 L319.6 1585.4 L320 1581.6 L320.4 1577.9 L320.8 1574.2 L321.3 1570.5 L321.7 1566.9 L322.2 1563.3 L322.7 1559.8 L323.2 1556.3 L323.7 1552.9 L324.2 1549.5 L324.7 1546.2 L325.3 1542.9 L325.8 1539.6 L326.4 1536.4 L326.9 1533.3 L327.4 1530.2 L328 1527.1 L328.5 1524.1 L329.1 1521.1 L329.7 1518.2 L330.3 1515.3 L330.9 1512.4 L331.5 1509.6 L332.1 1506.8 L332.7 1504.3 L333.3 1501.8 L333.9 1499.5 L334.5 1497.2 L335.1 1495.1 L335.7 1493 L336.3 1491.1 L336.9 1489.3 L337.6 1487.5 L338.2 1485.9 L338.9 1484.4 L339.6 1483 L340.4 1481.6 L341.2 1480.3 L342.1 1479 L343 1477.8 L343.9 1476.8 L344.8 1476 L345.6 1475.6 L346.4 1475.6 L347.1 1476 L347.8 1476.6 L348.5 1477.4 L349.1 1478.3 L349.8 1479.2 L350.5 1480 L351.2 1480.9 L351.9 1481.8 L352.6 1482.9 L353.3 1484 L354 1485.3 L354.7 1486.8 L355.4 1488.4 L356.1 1490.1 L356.8 1492 L357.4 1493.8 L358.1 1495.6 L358.8 1497.5 L359.5 1499.4 L360.1 1501.3 L360.8 1503.3 L361.5 1505.2 L362.2 1507.1 L363 1509.1 L363.7 1511 L364.4 1512.9 L365.2 1514.9 L366 1516.8 L366.7 1518.7 L367.5 1520.5 L368.3 1522.4 L369 1524.3 L369.8 1526.1 L370.6 1528 L371.4 1529.8 L372.1 1531.6 L372.9 1533.4 L373.7 1535.2 L374.4 1537 L375.2 1538.8 L376 1540.5 L376.7 1542.1 L377.5 1543.8 L378.3 1545.4 L379 1547 L379.8 1548.5 L380.6 1549.9 L381.3 1551.3 L382.1 1552.7 L382.9 1553.9 L383.6 1555.1 L384.4 1556.3 L385.2 1557.3 L386 1558.3 L386.8 1559.2 L387.5 1560 L388.4 1560.7 L389.3 1561.4 L390.3 1562 L391.5 1562.6 L392.7 1563.2 L394.1 1563.6 L395.5 1564 L396.9 1564.3 L398.4 1564.3 L399.9 1564.3 L401.3 1564.2 L402.7 1564 L404.3 1563.6 L406.1 1562.9 L408.1 1561.8 L410.4 1560.2 L413.1 1558 L415.9 1555.6 L418.8 1553 L421.6 1550.7 L424.2 1548.8 L426.5 1547.2 L428.7 1545.9 L430.8 1544.7 L432.8 1543.7 L434.9 1542.8 L437.2 1542 L439.5 1541.2 L441.9 1540.5 L444.4 1540 L446.8 1539.5 L449.3 1539.2 L451.7 1539 L454.1 1538.9 L456.5 1539 L458.9 1539.1 L461.3 1539.4 L463.7 1539.7 L466.2 1540.1 L468.7 1540.5 L471.2 1541 L473.8 1541.6 L476.4 1542.3 L479 1542.8 L481.6 1543.4 L484 1543.8 L486.4 1544.2 L488.7 1544.6 L491.2 1544.9 L493.9 1545.2 L496.9 1545.4 L500.4 1545.6 L504.2 1545.7 L508.3 1545.8 L512.5 1545.9 L516.8 1545.9 L521.1 1545.8 L525.4 1545.7 L529.8 1545.4 L534.3 1545 L538.8 1544.7 L543.4 1544.4 L548.2 1544.2 L553.5 1544 L559.3 1543.9 L565.3 1543.9 L570.9 1543.8 L575.6 1543.8 L579 1543.8 L584.1 1543.8 L2205.5 1543.8" fill="none" stroke="#0072BD" stroke-width="8.1" stroke-linejoin="round"/>
<path d="M153 1877.2 L257.2 1877.2 L257.2 1885.5" fill="none" stroke="#7E2F8E" stroke-width="8.1" stroke-linejoin="round" stroke-dasharray="23.5 21.417" stroke-dashoffset="-1.03"/>
<path d="M257.2 1877.4 L257.4 1876.6 L257.5 1875.9 L257.8 1875 L258 1873.9 L258.3 1872.4 L258.6 1870.5 L258.9 1868 L259.3 1865.1 L259.8 1861.9 L260.2 1858.4 L260.6 1854.9 L261 1851.5 L261.4 1848.4 L261.7 1845.4 L262 1842.4 L262.3 1839.1 L262.7 1835.4 L263 1831 L263.3 1825.7 L263.6 1819.8 L264 1813.5 L264.3 1806.9 L264.6 1800.3 L265 1793.9 L265.4 1787.9 L265.9 1782 L266.3 1776.2 L266.8 1770.1 L267.3 1763.8 L267.8 1756.9 L268.4 1749.2 L269 1740.7 L269.6 1731.9 L270.2 1723.2 L270.8 1714.9 L271.4 1707.5 L271.9 1701 L272.4 1694.9 L272.8 1689.4 L273.2 1684.2 L273.6 1679.3 L274 1674.6 L274.3 1670.2 L274.6 1666.2 L274.8 1662.5 L275.1 1659 L275.3 1655.7 L275.6 1652.4 L275.9 1649.2 L276.2 1646.3 L276.5 1643.5 L276.9 1640.7 L277.2 1638 L277.5 1635.1 L277.9 1632.1 L278.2 1629.1 L278.6 1626 L278.9 1622.9 L279.3 1619.9 L279.7 1617 L280.1 1614.1 L280.5 1611.1 L280.9 1608.3 L281.3 1605.5 L281.7 1602.9 L282.2 1600.5 L282.6 1598.5 L283.1 1596.7 L283.6 1595.1 L284.1 1593.6 L284.7 1592.1 L285.2 1590.7 L285.8 1589.1 L286.5 1587.6 L287.2 1586.1 L287.9 1584.7 L288.4 1583.5 L288.8 1582.7 L289 1582.2 L289 1581.9 L288.8 1581.8 L288.7 1581.9 L288.7 1582.2 L288.8 1582.7 L289.2 1583.4 L289.8 1584.3 L290.5 1585.4 L291.2 1586.6 L291.8 1587.8 L292.4 1589 L292.9 1590.2 L293.3 1591.3 L293.7 1592.6 L294.1 1593.8 L294.5 1595.1 L295 1596.4 L295.4 1597.7 L295.8 1599 L296.2 1600.2 L296.7 1601.7 L297.1 1603.4 L297.6 1605.6 L298.2 1608.2 L298.9 1611.4 L299.5 1614.8 L300.2 1618.4 L300.9 1621.8 L301.5 1625 L302.1 1627.8 L302.8 1630.5 L303.4 1633.1 L303.9 1635.7 L304.5 1638.4 L305.1 1641.2 L305.7 1644.2 L306.3 1647.3 L306.9 1650.5 L307.5 1653.7 L308.1 1656.9 L308.6 1660 L309.1 1663.1 L309.5 1666.1 L309.9 1669 L310.2 1672 L310.6 1674.9 L311.1 1677.8 L311.5 1680.7 L312.1 1683.5 L312.6 1686.2 L313.1 1689 L313.7 1691.8 L314.2 1694.7 L314.8 1697.6 L315.4 1700.6 L316.1 1703.7 L316.7 1706.8 L317.3 1709.8 L317.9 1712.9 L318.5 1715.9 L319.1 1719 L319.6 1722 L320.2 1725.1 L320.8 1728.1 L321.5 1731.1 L322.3 1734 L323.1 1737 L324 1739.9 L325 1742.8 L325.9 1745.4 L326.8 1747.8 L327.6 1750 L328.5 1751.9 L329.3 1753.6 L330.2 1755.2 L330.3 1755.5" fill="none" stroke="#7E2F8E" stroke-width="8.1" stroke-linejoin="round" stroke-dasharray="23.5 21.417" stroke-dashoffset="-5.54"/>
<path d="M346.1 1763.6 L346.5 1762.7 L347.3 1761 L348 1759.4 L348.6 1757.8 L349.3 1756.1 L350 1754.3 L350.9 1752.3 L351.9 1750.1 L353.1 1747.6 L354.4 1744.9 L355.9 1741.9 L357.5 1738.9 L359.1 1735.9 L360.7 1732.9 L362.4 1730 L364.2 1727 L366.1 1723.9 L367.9 1721 L369.5 1718.4 L370.8 1716.1 L371.8 1714.2 L372.5 1712.7 L373 1711.5 L373.4 1710.4 L374 1709.4 L374.8 1708.3 L375.9 1707.3 L377.2 1706.2 L378.5 1705.2 L380 1704.3 L381.5 1703.5 L382.9 1702.7 L384.4 1702 L385.9 1701.4 L387.5 1700.8 L389.1 1700.3 L390.7 1700 L392.4 1699.8 L394.1 1699.8 L395.9 1699.9 L397.7 1700.2 L399.5 1700.6 L401.4 1701 L403.1 1701.4 L404.9 1701.9 L406.6 1702.4 L408.3 1703 L409.9 1703.7 L411.7 1704.3 L413.4 1705 L415.2 1705.8 L417 1706.7 L418.8 1707.6 L420.6 1708.4 L422.4 1709.3 L424.2 1710 L425.9 1710.6 L427.6 1711.2 L429.3 1711.7 L431 1712.2 L432.7 1712.6 L434.4 1712.9 L436 1713.3 L437.6 1713.6 L439.1 1713.8 L440.8 1714 L442.8 1714.1 L445.2 1714.1 L448.1 1714 L451.3 1713.8 L454.9 1713.5 L458.7 1713.1 L462.5 1712.8 L466.2 1712.5 L469.9 1712.1 L473.7 1711.8 L477.5 1711.4 L481.4 1711.1 L485.3 1710.8 L489.2 1710.5 L493 1710.2 L496.9 1710 L500.8 1709.8 L504.7 1709.6 L508.5 1709.5 L512.3 1709.4 L516 1709.4 L519.6 1709.4 L523.1 1709.4 L526.7 1709.5 L530.3 1709.5 L534.1 1709.6 L538 1709.6 L542.1 1709.7 L546.3 1709.8 L550.5 1709.9 L554.6 1709.9 L558.5 1710 L562.3 1710 L566.3 1710 L570.2 1710 L573.8 1710 L576.8 1710 L578.9 1710 L581.8 1710" fill="none" stroke="#7E2F8E" stroke-width="8.1" stroke-linejoin="round" stroke-dasharray="23.5 21.417" stroke-dashoffset="-5.03"/>
<path d="M581.8 1710 L2205.5 1710" fill="none" stroke="#7E2F8E" stroke-width="8.1" stroke-linejoin="round" stroke-dasharray="23.5 21.417"/>
<path d="M153.00 1877.19 L260.82 1877.19" fill="none" stroke="#77AC30" stroke-width="7.8" stroke-dasharray="23.603 5.028 10.672 5.613" stroke-dashoffset="-1.00"/>
<path d="M256.47 1881.09 L256.47 1538.76" fill="none" stroke="#77AC30" stroke-width="8.7" stroke-dasharray="23.603 5.028 10.672 5.613" stroke-dashoffset="9.64"/>
<path d="M252.12 1542.66 L2205.45 1542.66" fill="none" stroke="#77AC30" stroke-width="7.8" stroke-dasharray="23.603 5.028 10.672 5.613" stroke-dashoffset="29.91"/>
<path d="M153.00 1877.19 L260.82 1877.19" fill="none" stroke="#4DBEEE" stroke-width="7.8" stroke-dasharray="6.67 4.559" stroke-dashoffset="-1.00"/>
<path d="M256.47 1881.09 L256.47 1706.03" fill="none" stroke="#4DBEEE" stroke-width="8.7" stroke-dasharray="6.67 4.559"/>
<path d="M252.12 1709.93 L2205.45 1709.93" fill="none" stroke="#4DBEEE" stroke-width="7.8" stroke-dasharray="6.67 4.559" stroke-dashoffset="7.54"/>
</g>
<text x="153.00" y="2116.90" font-family='"Liberation Sans", Arial, Helvetica, sans-serif' font-size="52.8" font-weight="bold" text-anchor="middle" fill="#262626" stroke="#262626" stroke-width="0.65" stroke-linejoin="round">0</text>
<text x="357.94" y="2116.90" font-family='"Liberation Sans", Arial, Helvetica, sans-serif' font-size="52.8" font-weight="bold" text-anchor="middle" fill="#262626" stroke="#262626" stroke-width="0.65" stroke-linejoin="round">2</text>
<text x="562.89" y="2116.90" font-family='"Liberation Sans", Arial, Helvetica, sans-serif' font-size="52.8" font-weight="bold" text-anchor="middle" fill="#262626" stroke="#262626" stroke-width="0.65" stroke-linejoin="round">4</text>
<text x="767.83" y="2116.90" font-family='"Liberation Sans", Arial, Helvetica, sans-serif' font-size="52.8" font-weight="bold" text-anchor="middle" fill="#262626" stroke="#262626" stroke-width="0.65" stroke-linejoin="round">6</text>
<text x="972.78" y="2116.90" font-family='"Liberation Sans", Arial, Helvetica, sans-serif' font-size="52.8" font-weight="bold" text-anchor="middle" fill="#262626" stroke="#262626" stroke-width="0.65" stroke-linejoin="round">8</text>
<text x="1177.72" y="2116.90" font-family='"Liberation Sans", Arial, Helvetica, sans-serif' font-size="52.8" font-weight="bold" text-anchor="middle" fill="#262626" stroke="#262626" stroke-width="0.65" stroke-linejoin="round">10</text>
<text x="1382.67" y="2116.90" font-family='"Liberation Sans", Arial, Helvetica, sans-serif' font-size="52.8" font-weight="bold" text-anchor="middle" fill="#262626" stroke="#262626" stroke-width="0.65" stroke-linejoin="round">12</text>
<text x="1587.61" y="2116.90" font-family='"Liberation Sans", Arial, Helvetica, sans-serif' font-size="52.8" font-weight="bold" text-anchor="middle" fill="#262626" stroke="#262626" stroke-width="0.65" stroke-linejoin="round">14</text>
<text x="1792.56" y="2116.90" font-family='"Liberation Sans", Arial, Helvetica, sans-serif' font-size="52.8" font-weight="bold" text-anchor="middle" fill="#262626" stroke="#262626" stroke-width="0.65" stroke-linejoin="round">16</text>
<text x="1997.50" y="2116.90" font-family='"Liberation Sans", Arial, Helvetica, sans-serif' font-size="52.8" font-weight="bold" text-anchor="middle" fill="#262626" stroke="#262626" stroke-width="0.65" stroke-linejoin="round">18</text>
<text x="2202.45" y="2116.90" font-family='"Liberation Sans", Arial, Helvetica, sans-serif' font-size="52.8" font-weight="bold" text-anchor="middle" fill="#262626" stroke="#262626" stroke-width="0.65" stroke-linejoin="round">20</text>
<text x="134.90" y="1395.40" font-family='"Liberation Sans", Arial, Helvetica, sans-serif' font-size="52.8" font-weight="bold" text-anchor="end" fill="#262626" stroke="#262626" stroke-width="0.65" stroke-linejoin="round">0.15</text>
<text x="134.90" y="1562.66" font-family='"Liberation Sans", Arial, Helvetica, sans-serif' font-size="52.8" font-weight="bold" text-anchor="end" fill="#262626" stroke="#262626" stroke-width="0.65" stroke-linejoin="round">0.1</text>
<text x="134.90" y="1729.93" font-family='"Liberation Sans", Arial, Helvetica, sans-serif' font-size="52.8" font-weight="bold" text-anchor="end" fill="#262626" stroke="#262626" stroke-width="0.65" stroke-linejoin="round">0.05</text>
<text x="134.90" y="1897.19" font-family='"Liberation Sans", Arial, Helvetica, sans-serif' font-size="52.8" font-weight="bold" text-anchor="end" fill="#262626" stroke="#262626" stroke-width="0.65" stroke-linejoin="round">0</text>
<text x="134.90" y="2064.45" font-family='"Liberation Sans", Arial, Helvetica, sans-serif' font-size="52.8" font-weight="bold" text-anchor="end" fill="#262626" stroke="#262626" stroke-width="0.65" stroke-linejoin="round">-0.05</text>
<text x="1177.50" y="1349.10" font-family='"Liberation Sans", Arial, Helvetica, sans-serif' font-size="58.4" font-weight="bold" text-anchor="middle" fill="#000" stroke="#000" stroke-width="0.9" stroke-linejoin="round">Scenario 4</text>
<rect x="1412" y="1379" width="789.3" height="263" fill="#fff" stroke="#262626" stroke-width="1.7"/>
<line x1="1423" y1="1415.00" x2="1508" y2="1415.00" stroke="#0072BD" stroke-width="7.8"/>
<text x="1515.80" y="1433.80" font-family='"Liberation Sans", Arial, Helvetica, sans-serif' font-size="47.6" font-weight="bold" text-anchor="start" fill="#000" stroke="#000" stroke-width="0.9" stroke-linejoin="round">Estimated disturbance Area 1</text>
<line x1="1423" y1="1478.30" x2="1508" y2="1478.30" stroke="#7E2F8E" stroke-width="7.8" stroke-dasharray="23.603 21.653"/>
<text x="1515.80" y="1497.10" font-family='"Liberation Sans", Arial, Helvetica, sans-serif' font-size="47.6" font-weight="bold" text-anchor="start" fill="#000" stroke="#000" stroke-width="0.9" stroke-linejoin="round">Estimated disturbance Area 4</text>
<line x1="1423" y1="1541.60" x2="1508" y2="1541.60" stroke="#77AC30" stroke-width="7.8" stroke-dasharray="23.603 4.413 11.288 6.055"/>
<text x="1515.80" y="1560.40" font-family='"Liberation Sans", Arial, Helvetica, sans-serif' font-size="47.6" font-weight="bold" text-anchor="start" fill="#000" stroke="#000" stroke-width="0.9" stroke-linejoin="round">Actual disturbance Area 1</text>
<line x1="1423" y1="1604.90" x2="1508" y2="1604.90" stroke="#4DBEEE" stroke-width="7.8" stroke-dasharray="5.952 5.336"/>
<text x="1515.80" y="1623.70" font-family='"Liberation Sans", Arial, Helvetica, sans-serif' font-size="47.6" font-weight="bold" text-anchor="start" fill="#000" stroke="#000" stroke-width="0.9" stroke-linejoin="round">Actual disturbance Area 4</text>
<line x1="824.50" y1="1650.00" x2="518.20" y2="1554.44" stroke="#000" stroke-width="1.8"/>
<polygon points="491.80,1546.20 534.00,1543.55 518.20,1554.44 525.01,1572.38" fill="#000"/>
<line x1="655.00" y1="1893.00" x2="492.05" y2="1738.24" stroke="#000" stroke-width="2.2"/>
<polygon points="472.00,1719.20 511.04,1735.45 492.05,1738.24 490.24,1757.35" fill="#000"/>
<text x="839.00" y="1667.10" font-family='"Liberation Sans", Arial, Helvetica, sans-serif' font-size="45.0" font-weight="bold" text-anchor="start" fill="#000" stroke="#000" stroke-width="0.9" stroke-linejoin="round">steady state reached</text>
<text x="669.00" y="1939.10" font-family='"Liberation Sans", Arial, Helvetica, sans-serif' font-size="45.0" font-weight="bold" text-anchor="start" fill="#000" stroke="#000" stroke-width="0.9" stroke-linejoin="round">steady state reached</text>
</g>
<text y="2294.5" font-family='"Liberation Serif", "Times New Roman", serif' fill="#000"><tspan x="1089.5" y="2294.5" font-size="77.07" font-weight="normal">(</tspan><tspan x="1112.9" y="2295.3" font-size="78.1" font-weight="bold">b</tspan><tspan x="1156.6" y="2294.5" font-size="77.07" font-weight="normal">)</tspan></text>
</svg>
</body>
</html>
